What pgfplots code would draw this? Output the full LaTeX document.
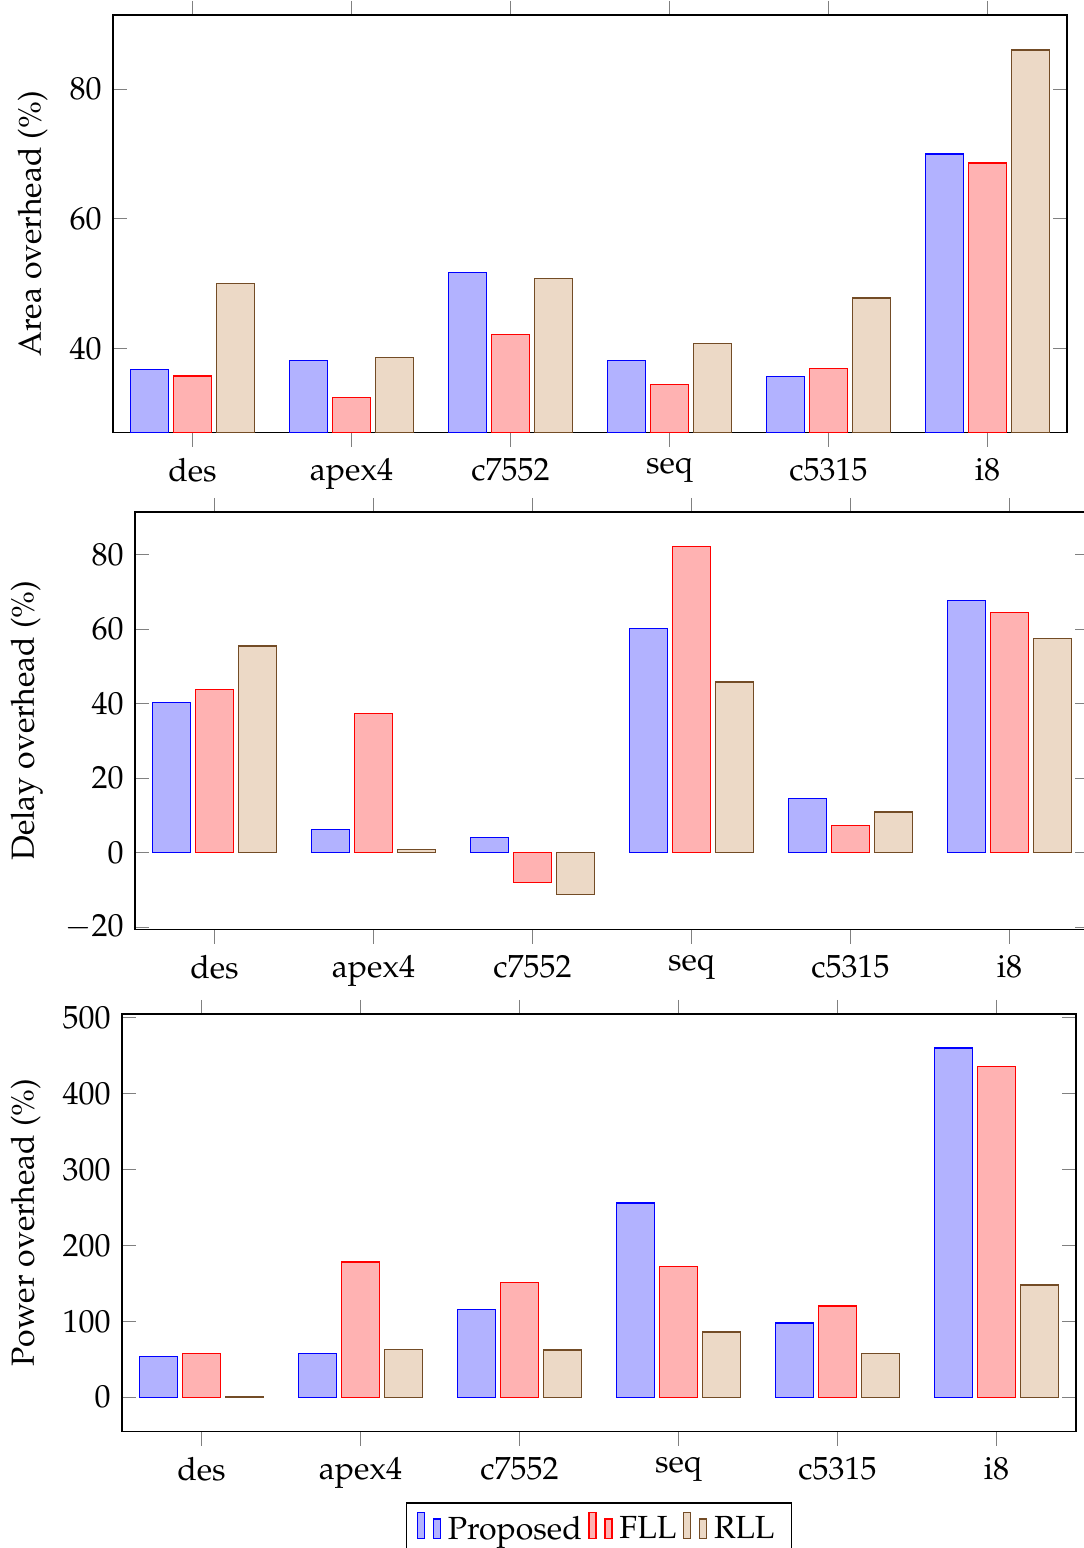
\documentclass[border=0pt]{standalone}
\usepackage[T1]{fontenc}
\usepackage{mathpazo}
\usepackage{pgfplots}
\usepackage{pgfplotstable}
\pgfplotsset{compat=1.18}

\pgfplotstableread{
x prop fll rll
0 36.8 35.8 50.0
1 38.2 32.5 38.6
2 51.7 42.2 50.8
3 38.2 34.5 40.8
4 35.7 36.9 47.8
5 70.0 68.6 86.0
}\areadata
\pgfplotstableread{
x prop fll rll
0 40.2 43.8 55.4
1 6.2 37.4 0.8
2 4.1 -8.1 -11.3
3 60.2 82.2 45.8
4 14.6 7.2 10.9
5 67.6 64.4 57.4
}\delaydata
\pgfplotstableread{
x prop fll rll
0 54 58 0.6
1 58 178 63
2 116 151 62
3 256 172 86
4 98 120 58
5 460 436 148
}\powerdata

\pgfplotsset{
  common/.style={
    anchor=north west, scale only axis,
    width=286.2pt, height=125.2pt,
    ybar=1.5pt, bar width=11.4pt,
    xmin=-0.5, xmax=5.5,
    xtick={0,...,5},
    xticklabels={des,apex4,c7552,seq,c5315,i8},
  }
}

\begin{document}
\fontsize{9.6pt}{11.5pt}\selectfont
\begin{tikzpicture}
\useasboundingbox (0,0) rectangle (324.9pt,-464.4pt);
\begin{axis}[common, at={(33.9pt,-4.5pt)},
  ymin=27.1, ymax=91.4, ytick={40,60,80},
  ylabel={Area overhead (\%)}]
\addplot table[x=x,y=prop]{\areadata};
\addplot table[x=x,y=fll]{\areadata};
\addplot table[x=x,y=rll]{\areadata};
\end{axis}
\begin{axis}[common, at={(40.5pt,-153.6pt)},
  ymin=-20.6, ymax=91.4, ytick={-20,0,20,40,60,80},
  ylabel={Delay overhead (\%)}]
\addplot table[x=x,y=prop]{\delaydata};
\addplot table[x=x,y=fll]{\delaydata};
\addplot table[x=x,y=rll]{\delaydata};
\end{axis}
\begin{axis}[common, at={(36.6pt,-304.2pt)},
  ymin=-45, ymax=505, ytick={0,100,200,300,400,500},
  ylabel={Power overhead (\%)},
  legend image code/.code={
    \draw[#1] (0pt,-0.25em) rectangle (2.1pt,0.55em);
    \draw[#1] (4.8pt,-0.25em) rectangle (6.9pt,0.35em);},
  legend style={at={(0.5,-0.17)}, anchor=north, legend columns=-1}]
\addplot table[x=x,y=prop]{\powerdata};
\addplot table[x=x,y=fll]{\powerdata};
\addplot table[x=x,y=rll]{\powerdata};
\legend{Proposed,FLL,RLL}
\end{axis}
\end{tikzpicture}
\end{document}
